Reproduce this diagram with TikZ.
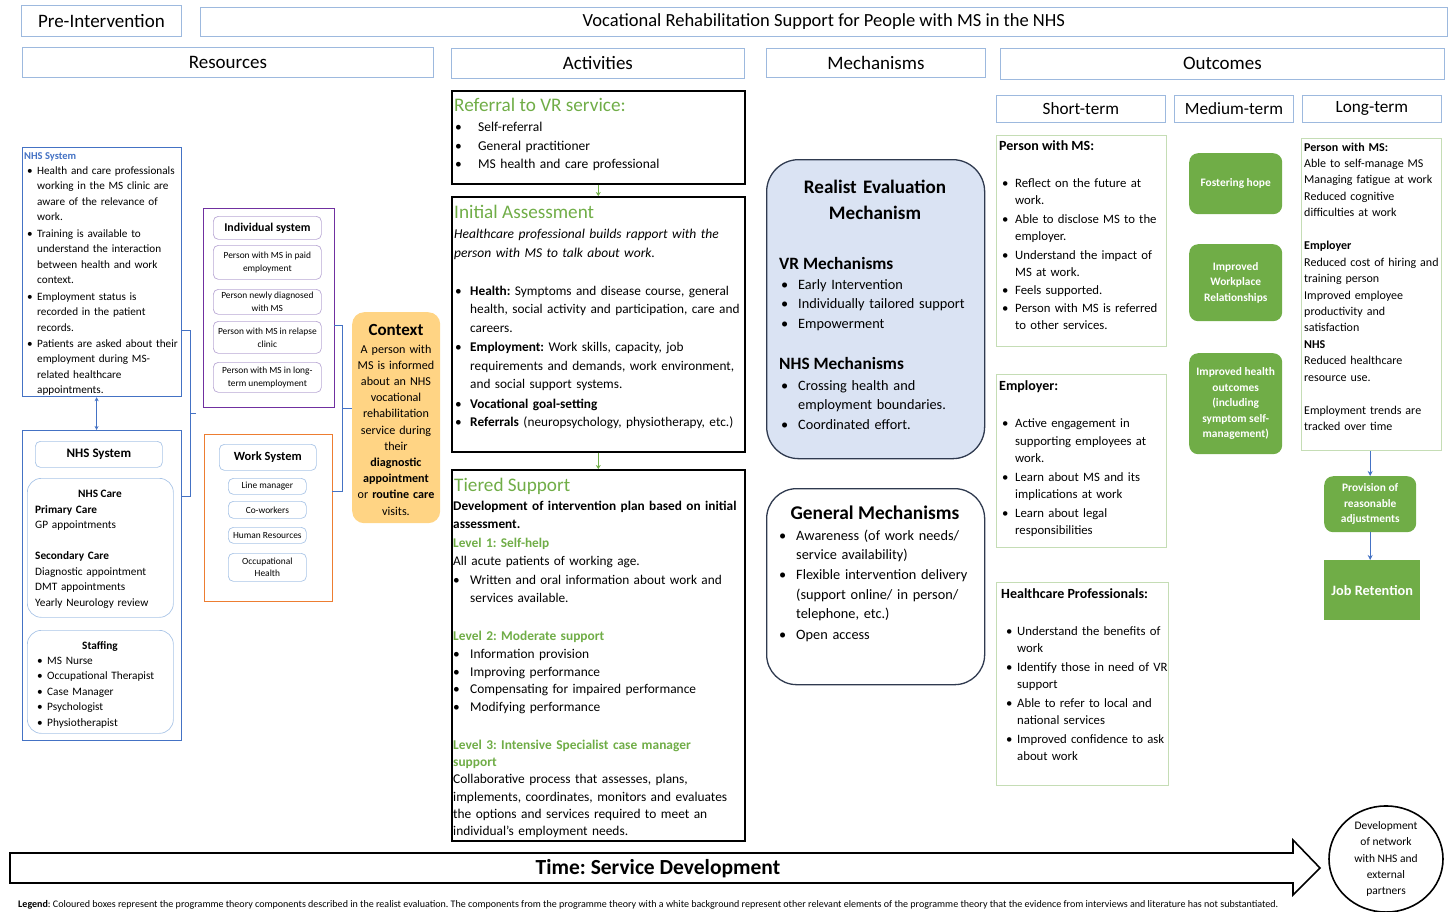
\documentclass[tikz,border=0pt]{standalone}
\usepackage{fontspec}
\usepackage{graphicx}
\setmainfont{Carlito}
\usetikzlibrary{arrows.meta,shapes.geometric}
\definecolor{hdrc}{HTML}{9DB9DE}
\definecolor{nhsb}{HTML}{4472C4}
\definecolor{purp}{HTML}{7030A0}
\definecolor{lpurp}{HTML}{B9A8D4}
\definecolor{orng}{HTML}{ED7D31}
\definecolor{lblue}{HTML}{A9C4E6}
\definecolor{ctx}{HTML}{FFD484}
\definecolor{grn}{HTML}{70AD47}
\definecolor{gfill}{HTML}{70AD47}
\definecolor{mfill}{HTML}{DAE3F3}
\definecolor{mdraw}{HTML}{2F3A4F}
\definecolor{obord}{HTML}{C5DDB5}
\frenchspacing
\newcommand{\fs}[2]{\fontsize{#1}{#2}\selectfont}
\newcommand{\bi}[2]{\makebox[#1][l]{\textbullet}\begin{tabular}[t]{@{}l@{}}#2\end{tabular}}
\newcommand{\bx}[7]{\node[#1, anchor=north west, minimum width={#5pt-#3pt}, minimum height={#6pt-#4pt}] (#2) at (#3,#4) {#7};}
\begin{document}
\begin{tikzpicture}[x=1pt,y=-1pt,
  hdr/.style={draw=hdrc, line width=0.8pt, inner sep=0pt},
  txt/.style={anchor=base west, inner sep=0pt, align=left},
  ctxt/.style={anchor=base, inner sep=0pt, align=center},
  ibox/.style={draw=#1, rounded corners=5pt, line width=0.7pt, inner sep=0pt, align=center},
  frame/.style={draw=black, line width=1.6pt, inner sep=0pt},
  obox/.style={draw=obord, line width=0.8pt, inner sep=0pt},
  gbox/.style={fill=gfill, rounded corners=9pt, inner sep=0pt, align=center, text=white, font=\fs{11.4}{15.5}\bfseries},
  barr/.style={nhsb, line width=1.2pt, -{Stealth[length=5pt,width=5pt]}},
  garr/.style={grn, line width=1.2pt, -{Stealth[length=4pt,width=5pt]}},
  brk/.style={nhsb, line width=1pt}]
\useasboundingbox (0,0) rectangle (1452,911);

% ---------- headers ----------
\bx{hdr, font=\fs{19}{22}}{pre}{21}{5}{181}{36}{Pre-Intervention}
\bx{hdr, font=\fs{18.5}{22}}{title}{200}{7}{1447}{36}{Vocational Rehabilitation Support for People with MS in the NHS}
\bx{hdr, font=\fs{19}{22}}{res}{22}{47}{433}{77}{Resources}
\bx{hdr, font=\fs{19}{22}}{act}{451}{48}{744}{78}{Activities}
\bx{hdr, font=\fs{19}{22}}{mech}{766}{48}{985}{77}{Mechanisms}
\bx{hdr, font=\fs{19}{22}}{outc}{1000}{48}{1444}{79}{Outcomes}
\bx{hdr, font=\fs{17.2}{20}}{st}{996}{95}{1165}{122}{Short-term}
\bx{hdr, font=\fs{17.2}{20}}{mt}{1174}{95}{1293}{122}{Medium-term}
\bx{hdr, font=\fs{17.2}{20}}{lt}{1302}{95}{1441}{122}{Long-term}

% ---------- NHS system box 1 ----------
\bx{draw=nhsb, line width=1.2pt, inner sep=0pt}{nhs1}{22}{147}{181}{396}{}
\node[txt, text=nhsb, font=\fs{10.5}{12}\bfseries] (nhs1h) at (24,159.2) {NHS System};
\node[txt, text width=170pt, font=\fs{11.2}{15.45}] (nhs1t) at (27,174.5) {%
\bi{10pt}{Health and care professionals\\working in the MS clinic are\\aware of the relevance of\\work.}\\
\bi{10pt}{Training is available to\\understand the interaction\\between health and work\\context.}\\
\bi{10pt}{Employment status is\\recorded in the patient\\records.}\\
\bi{10pt}{Patients are asked about their\\employment during MS-\\related healthcare\\appointments.}};

% ---------- NHS system box 2 ----------
\bx{draw=nhsb, line width=1.2pt, inner sep=0pt}{nhs2}{22}{430}{181}{740}{}
\draw[nhsb, line width=1pt, {Stealth[length=4pt,width=4pt]}-{Stealth[length=4pt,width=4pt]}] ([xshift=-5.5pt]nhs1.south) -- ([xshift=-5.5pt]nhs2.north);
\bx{ibox=lblue, font=\fs{13}{15}\bfseries}{nhss}{35}{441}{162}{467}{NHS System}
\bx{ibox=lblue, rounded corners=14pt}{care}{27}{478}{173}{617}{}
\node[ctxt, font=\fs{11.3}{15.5}\bfseries] (careh) at (100,497.4) {NHS Care};
\node[txt, text width=145pt, font=\fs{11.3}{15.5}] (caret) at (35,513.4) {\textbf{Primary Care}\\GP appointments\\[15.5pt]\textbf{Secondary Care}\\Diagnostic appointment\\DMT appointments\\Yearly Neurology review};
\bx{ibox=lblue, rounded corners=14pt}{staff}{27}{630}{173}{733}{}
\node[ctxt, font=\fs{11.3}{15.5}\bfseries] (staffh) at (100,649.4) {Staffing};
\node[txt, text width=145pt, font=\fs{11.3}{15.5}] (stafft) at (37,664.4) {%
\bi{10pt}{MS Nurse}\\\bi{10pt}{Occupational Therapist}\\\bi{10pt}{Case Manager}\\\bi{10pt}{Psychologist}\\\bi{10pt}{Physiotherapist}};

% ---------- Individual system ----------
\bx{draw=purp, line width=1.3pt, inner sep=0pt}{indiv}{203}{208}{334}{407}{}
\bx{ibox=lpurp, font=\fs{11.9}{14}\bfseries}{indh}{213}{216}{321}{239}{Individual system}
\bx{ibox=lpurp, font=\fs{9.4}{13}}{ind1}{213}{245}{321}{279}{Person with MS in paid\\employment}
\bx{ibox=lpurp, font=\fs{9.4}{13}}{ind2}{213}{289}{321}{314}{Person newly diagnosed\\with MS}
\bx{ibox=lpurp, font=\fs{9.4}{13}}{ind3}{213}{321}{321}{353}{Person with MS in relapse\\clinic}
\bx{ibox=lpurp, font=\fs{9.4}{13}}{ind4}{213}{362}{321}{392}{Person with MS in long-\\term unemployment}

% ---------- Work system ----------
\bx{draw=orng, line width=1.3pt, inner sep=0pt}{work}{204}{434}{332}{601}{}
\bx{ibox=lblue, font=\fs{12.5}{14}\bfseries}{workh}{219}{444}{316}{470}{Work System}
\bx{ibox=lblue, font=\fs{9.4}{12}}{w1}{228}{478}{306}{494}{Line manager}
\bx{ibox=lblue, font=\fs{9.4}{12}}{w2}{228}{501}{306}{518}{Co-workers}
\bx{ibox=lblue, font=\fs{9.4}{12}}{w3}{228}{527}{306}{543}{Human Resources}
\bx{ibox=lblue, font=\fs{9.4}{12}}{w4}{228}{553}{306}{581}{Occupational\\Health}

% ---------- Context ----------
\bx{fill=ctx, rounded corners=12pt, inner sep=0pt}{ctxb}{352}{312}{440}{523}{}
\node[ctxt, font=\fs{17}{19}\bfseries] (ctxh) at (396,335.5) {Context};
\node[ctxt, text width=90pt, font=\fs{12.1}{16.2}] (ctxtx) at (396,353) {A person with\\MS is informed\\about an NHS\\vocational\\rehabilitation\\service during\\their\\\textbf{diagnostic}\\\textbf{appointment}\\or \textbf{routine care}\\visits.};

% ---------- brackets ----------
\coordinate (b1a) at (181,330);
\coordinate (b1b) at (181,496);
\coordinate (b1m) at (196,413);
\draw[brk] (b1a) -- (190,330) -- (190,496) -- (b1b);
\draw[brk] (190,413) -- (b1m);
\coordinate (b2a) at (334,325);
\coordinate (b2b) at (332,491);
\draw[brk] (b2a) -- (342,325) -- (342,491) -- (b2b);
\draw[brk] (342,408) -- (ctxb.west |- 0,408);

% ---------- Activities ----------
\bx{frame}{ref}{451}{90}{744}{183}{}
\node[txt, text=grn, font=\fs{19.2}{22}] (refh) at (454,111.5) {Referral to VR service:};
\node[txt, text width=280pt, font=\fs{13.5}{18.5}] (reft) at (455,131.5) {%
\bi{23pt}{Self-referral}\\\bi{23pt}{General practitioner}\\\bi{23pt}{MS health and care professional}};

\bx{frame}{ia}{451}{196}{744}{451}{}
\draw[garr] (ref.south) -- (ia.north);
\node[txt, text=grn, font=\fs{19.2}{22}] (iah) at (454,218.5) {Initial Assessment};
\node[txt, text width=300pt, font=\fs{13.5}{19}\itshape] (iai) at (454,238.5) {Healthcare professional builds rapport with the\\person with MS to talk about work.};
\node[txt, text width=300pt, font=\fs{13.3}{18.45}] (iat) at (455,295.5) {%
\bi{15pt}{\textbf{Health:} Symptoms and disease course, general\\health, social activity and participation, care and\\careers.}\\
\bi{15pt}{\textbf{Employment:} Work skills, capacity, job\\requirements and demands, work environment,\\and social support systems.}\\
\bi{15pt}{\textbf{Vocational goal-setting}}\\
\bi{15pt}{\textbf{Referrals} (neuropsychology, physiotherapy, etc.)}};

\bx{frame}{ts}{451}{469}{744}{840}{}
\draw[garr] (ia.south) -- (ts.north);
\node[txt, text=grn, font=\fs{19.2}{22}] (tsh) at (454,491.5) {Tiered Support};
\node[txt, text width=310pt, font=\fs{13.3}{18.4}] (tsb) at (453,510.5) {%
\textbf{Development of intervention plan based on initial}\\\textbf{assessment.}\\\textcolor{grn}{\textbf{Level 1: Self-help}}\\All acute patients of working age.\\
\bi{17pt}{Written and oral information about work and\\services available.}};
\node[txt, text width=310pt, font=\fs{13.4}{17.75}] (tsc) at (453,640.5) {%
\textcolor{grn}{\textbf{Level 2: Moderate support}}\\
\bi{17pt}{Information provision}\\\bi{17pt}{Improving performance}\\\bi{17pt}{Compensating for impaired performance}\\\bi{17pt}{Modifying performance}};
\node[txt, text width=310pt, font=\fs{13.4}{17.2}] (tsd) at (453,749.5) {%
\textcolor{grn}{\textbf{Level 3: Intensive Specialist case manager}}\\\textcolor{grn}{\textbf{support}}\\Collaborative process that assesses, plans,\\implements, coordinates, monitors and evaluates\\the options and services required to meet an\\individual’s employment needs.};

% ---------- Mechanisms ----------
\bx{fill=mfill, draw=mdraw, line width=1.3pt, rounded corners=32pt, inner sep=0pt}{rem}{766}{159}{984}{458}{}
\node[ctxt, text width=215pt, font=\fs{19.1}{26}\bfseries] (remh) at (875,193) {Realist Evaluation\\Mechanism};
\node[txt, font=\fs{17.3}{20}\bfseries] (vrh) at (779,269) {VR Mechanisms};
\node[txt, text width=210pt, font=\fs{14.3}{19.5}] (vrt) at (781,289) {%
\bi{17pt}{Early Intervention}\\\bi{17pt}{Individually tailored support}\\\bi{17pt}{Empowerment}};
\node[txt, font=\fs{17.3}{20}\bfseries] (nhsmh) at (779,369) {NHS Mechanisms};
\node[txt, text width=210pt, font=\fs{14.3}{19.2}] (nhsmt) at (781,390) {%
\bi{17pt}{Crossing health and\\employment boundaries.}\\\bi{17pt}{Coordinated effort.}};

\bx{fill=white, draw=mdraw, line width=1.3pt, rounded corners=30pt, inner sep=0pt}{gm}{766}{488}{984}{684}{}
\node[ctxt, font=\fs{19.4}{22}\bfseries] (gmh) at (875,519) {General Mechanisms};
\node[txt, text width=210pt, font=\fs{14.3}{19.4}] (gmt) at (779,540) {%
\bi{17pt}{Awareness (of work needs/\\service availability)}\\\bi{17pt}{Flexible intervention delivery\\(support online/ in person/\\telephone, etc.)}\\\bi{17pt}{Open access}};

% ---------- Short-term outcomes ----------
\bx{obox}{stp}{996}{135}{1166}{346}{}
\node[txt, font=\fs{14}{16}\bfseries] (stph) at (999,150.5) {Person with MS:};
\node[txt, text width=175pt, font=\fs{12.75}{17.4}] (stpt) at (1002,187.5) {%
\bi{13pt}{Reflect on the future at\\work.}\\\bi{13pt}{Able to disclose MS to the\\employer.}\\\bi{13pt}{Understand the impact of\\MS at work.}\\\bi{13pt}{Feels supported.}\\\bi{13pt}{Person with MS is referred\\to other services.}};

\bx{obox}{ste}{996}{374}{1166}{547}{}
\node[txt, font=\fs{14}{16}\bfseries] (steh) at (999,390.5) {Employer:};
\node[txt, text width=175pt, font=\fs{12.75}{17.5}] (stet) at (1002,427.5) {%
\bi{13pt}{Active engagement in\\supporting employees at\\work.}\\\bi{13pt}{Learn about MS and its\\implications at work}\\\bi{13pt}{Learn about legal\\responsibilities}};

\bx{obox}{sth}{996}{582}{1168}{785}{}
\node[txt, font=\fs{14}{16}\bfseries] (sthh) at (1001,598.5) {Healthcare Professionals:};
\node[txt, text width=175pt, font=\fs{12.75}{17.45}] (stht) at (1006,635.5) {%
\bi{11pt}{Understand the benefits of\\work}\\\bi{11pt}{Identify those in need of VR\\support}\\\bi{11pt}{Able to refer to local and\\national services}\\\bi{11pt}{Improved confidence to ask\\about work}};

% ---------- Medium-term ----------
\bx{gbox}{hope}{1189}{153}{1282}{214}{Fostering hope}
\bx{gbox}{iwr}{1189}{244}{1282}{321}{Improved\\Workplace\\Relationships}
\bx{gbox}{iho}{1189}{353}{1282}{454}{Improved health\\outcomes\\(including\\symptom self-\\management)}

% ---------- Long-term ----------
\bx{obox}{ltb}{1301}{138}{1441}{450}{}
\node[txt, text width=145pt, font=\fs{12}{16.45}] (ltt) at (1304,151) {%
\textbf{Person with MS:}\\Able to self-manage MS\\Managing fatigue at work\\Reduced cognitive\\difficulties at work\\[16.45pt]\textbf{Employer}\\Reduced cost of hiring and\\training person\\Improved employee\\productivity and\\satisfaction\\\textbf{NHS}\\Reduced healthcare\\resource use.\\[16.45pt]Employment trends are\\tracked over time};

\bx{gbox}{prov}{1324}{476}{1416}{532}{Provision of\\reasonable\\adjustments}
\bx{fill=gfill, inner sep=0pt, text=white, font=\fs{14.3}{16}\bfseries}{job}{1324}{560}{1420}{620}{Job Retention}
\draw[barr] (ltb.south -| prov.north) -- (prov.north);
\draw[barr] (prov.south) -- (prov.south |- job.north);

% ---------- Time arrow ----------
\draw[line width=1.6pt, fill=white] (10,853) -- (1293,853) -- (1293,840) -- (1320,868) -- (1293,895) -- (1293,883) -- (10,883) -- cycle;
\node[font=\fs{21.5}{24}\bfseries, inner sep=0pt] (time) at (658,869) {Time: Service Development};
\node[draw, line width=1.6pt, ellipse, inner sep=0pt, minimum width=114pt, minimum height=104pt, align=center, font=\fs{11.5}{16.3}] (net) at (1386,859) {Development\\of network\\with NHS and\\external\\partners};

% ---------- Legend ----------
\node[anchor=west, inner sep=0pt] (legend) at (18,905) {\resizebox{1260pt}{!}{\fs{10}{12}\textbf{Legend}: Coloured boxes represent the programme theory components described in the realist evaluation. The components from the programme theory with a white background represent other relevant elements of the programme theory that the evidence from interviews and literature has not substantiated.}};
\end{tikzpicture}
\end{document}
